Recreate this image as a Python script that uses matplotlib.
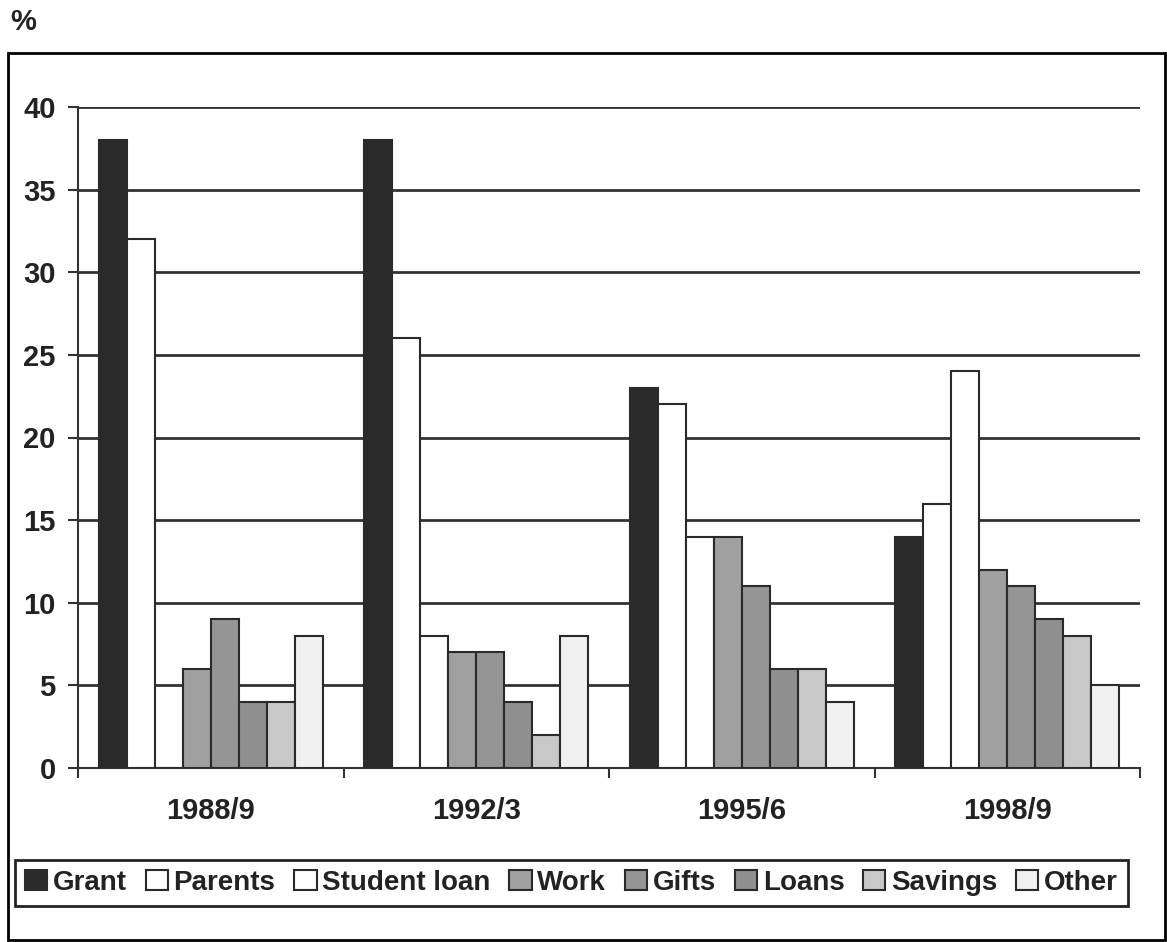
import matplotlib
matplotlib.use("Agg")
import matplotlib.pyplot as plt
import numpy as np
from matplotlib.patches import Rectangle

plt.rcParams['font.family'] = ['Liberation Sans', 'DejaVu Sans']
plt.rcParams['font.weight'] = 'bold'

categories = ["1988/9", "1992/3", "1995/6", "1998/9"]
series_names = ["Grant", "Parents", "Student loan", "Work", "Gifts", "Loans", "Savings", "Other"]
grant = [38, 38, 23, 14]
parents = [32, 26, 22, 16]
student_loan = [0, 8, 14, 24]
work = [6, 7, 14, 12]
gifts = [9, 7, 11, 11]
loans = [4, 4, 6, 9]
savings = [4, 2, 6, 8]
other = [8, 8, 4, 5]
series_values = [grant, parents, student_loan, work, gifts, loans, savings, other]
colors = ["#2a2a2a", "#ffffff", "#ffffff", "#a0a0a0", "#959595", "#8f8f8f", "#c8c8c8", "#f0f0f0"]
yticks = [0, 5, 10, 15, 20, 25, 30, 35, 40]

W, H = 1167, 942
FS = 21
fig = plt.figure(figsize=(W / 100, H / 100), dpi=100)
ax = fig.add_axes([78 / W, 1 - 768 / H, (1140 - 78) / W, (768 - 107) / H])

edge = "#2a2a2a"
x = np.arange(len(categories))
bw = 0.1055
n = len(series_names)
handles = []
for i, (name, vals, c) in enumerate(zip(series_names, series_values, colors)):
    offs = (i - (n - 1) / 2) * bw
    b = ax.bar(x + offs, vals, width=bw, color=c, edgecolor=edge, linewidth=1.5,
               label=name, zorder=3)
    handles.append(b)

ax.set_xlim(-0.5, 3.5)
ax.set_ylim(0, 40)
ax.set_yticks(yticks)
ax.set_yticklabels([str(v) for v in yticks], fontsize=FS, fontweight='bold', color="#222222")
ax.yaxis.grid(True, color="#333333", linewidth=2, zorder=0)
ax.set_axisbelow(True)
for s in ['top', 'right']:
    ax.spines[s].set_visible(False)
for s in ['left', 'bottom']:
    ax.spines[s].set_color("#333333")
    ax.spines[s].set_linewidth(1.5)
ax.tick_params(axis='y', length=7, width=1.5, color="#333333", pad=9)

ax.set_xticks(x)
ax.set_xticklabels(categories, fontsize=FS, fontweight='bold', color="#222222")
ax.set_xticks(np.arange(-0.5, 4.0, 1.0), minor=True)
ax.tick_params(axis='x', which='major', length=0, pad=21)
ax.tick_params(axis='x', which='minor', length=7, width=1.5, color="#333333")

leg = fig.legend(handles=handles, labels=series_names, loc='center',
                 bbox_to_anchor=(571.5 / W, 1 - 883 / H), ncol=8,
                 prop={'size': 20, 'weight': 'bold'},
                 handlelength=0.8, handleheight=0.75, handletextpad=0.2,
                 columnspacing=0.68, borderpad=0.35, borderaxespad=0,
                 fancybox=False, frameon=True, framealpha=1, edgecolor="#222222")
leg.get_frame().set_linewidth(2)
for t in leg.get_texts():
    t.set_color("#222222")

fig.patches.append(Rectangle((8 / W, 1 - 940 / H), (1165 - 8) / W, (940 - 53) / H,
                             transform=fig.transFigure, fill=False,
                             edgecolor="black", linewidth=2))
fig.text(10 / W, 1 - 22 / H, "%", fontsize=FS, fontweight='bold', va='center', ha='left',
         color="#222222")

fig.savefig("out.png", dpi=100)
